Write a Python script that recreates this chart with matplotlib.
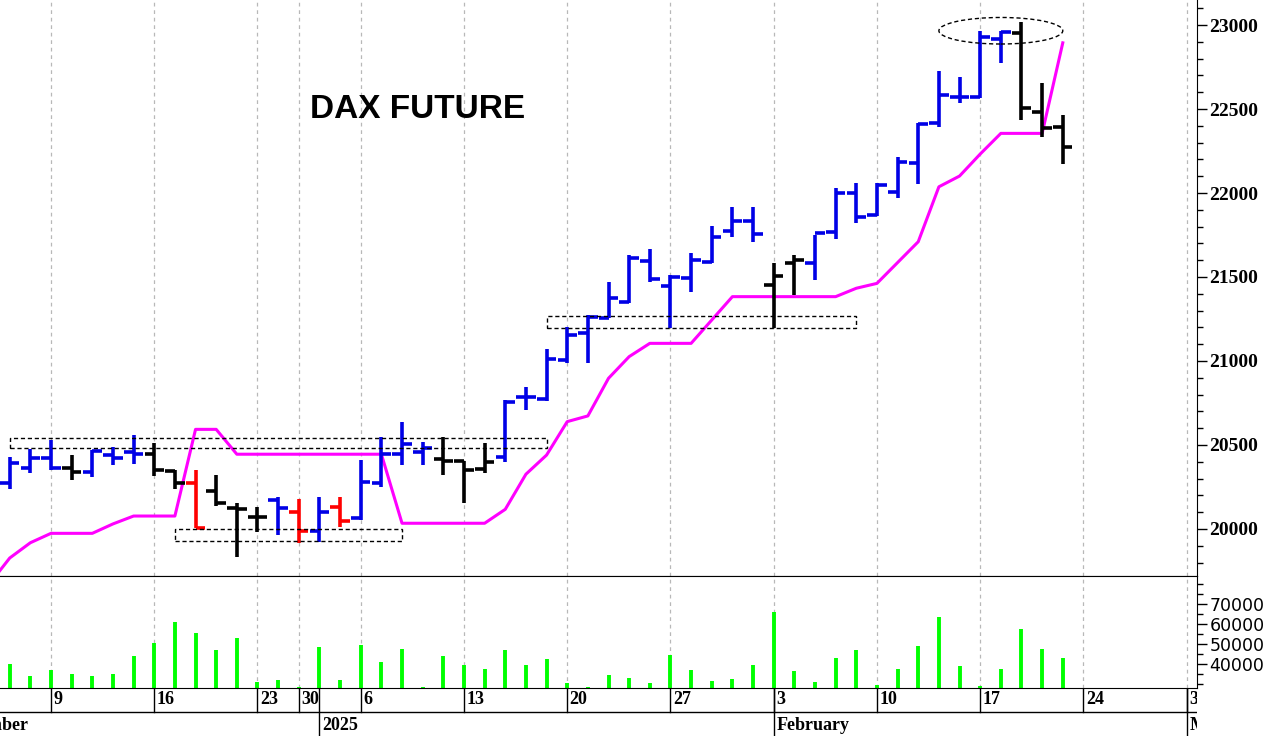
import numpy as np
import pandas as pd
import matplotlib
matplotlib.use('Agg')
import matplotlib.pyplot as plt
import matplotlib.patches as mpatches
from matplotlib.ticker import MultipleLocator, FixedLocator

# trading calendar (Eurex holidays removed)
holidays = ['2024-12-24', '2024-12-25', '2024-12-26', '2024-12-31', '2025-01-01']
cal = pd.bdate_range('2024-12-02', '2025-03-07')
cal = cal[~cal.isin(pd.to_datetime(holidays))]
pos = {d: i for i, d in enumerate(cal)}

dates = cal[(cal >= '2024-12-05') & (cal <= '2025-02-21')]

opens = [20272, 20361, 20421, 20361, 20341, 20440, 20460, 20446, 20345, 20272,
         20228, 20123, 20073, 20173, 20103, 19990, 20133, 20064, 20272, 20446,
         20460, 20416, 20406, 20355, 20427, 20784, 20772, 21005, 21165, 21258,
         21353, 21597, 21446, 21492, 21591, 21775, 21835, 21452, 21585, 21581,
         21770, 22002, 21869, 22008, 22180, 22414, 22569, 22573, 22914, 22950,
         22484, 22391]
highs = [20427, 20474, 20530, 20440, 20470, 20490, 20561, 20510, 20351, 20351,
         20321, 20153, 20129, 20189, 20177, 20192, 20188, 20411, 20550, 20639,
         20520, 20550, 20406, 20510, 20768, 20847, 21070, 21200, 21274, 21472,
         21631, 21664, 21512, 21643, 21803, 21915, 21919, 21581, 21631, 21750,
         22027, 22057, 22057, 22217, 22414, 22726, 22690, 22966, 22966, 23020,
         22653, 22464]
lows = [20236, 20335, 20351, 20292, 20311, 20381, 20387, 20315, 20236, 20004,
        20137, 19835, 19984, 19964, 19915, 19921, 20014, 20054, 20252, 20381,
        20381, 20321, 20153, 20335, 20401, 20708, 20764, 20990, 20987, 21254,
        21347, 21472, 21195, 21413, 21585, 21740, 21710, 21195, 21393, 21482,
        21729, 21823, 21863, 21969, 22053, 22394, 22533, 22563, 22772, 22435,
        22335, 22173]
closes = [20391, 20421, 20361, 20341, 20466, 20421, 20446, 20351, 20272, 20008,
          20153, 20117, 20073, 20123, 19990, 20103, 20050, 20282, 20446, 20506,
          20484, 20406, 20351, 20401, 20758, 20786, 21010, 21155, 21264, 21373,
          21611, 21486, 21498, 21601, 21736, 21835, 21754, 21506, 21601, 21759,
          22002, 21855, 22050, 22186, 22411, 22583, 22573, 22930, 22960, 22504,
          22385, 22272]
bar_col = list('bbbkbbbkkrkkkbrbrbbbbkkkbbbbbbbbbbbbbkkbbbbbbbbbbkkk')

volume = [40000, 34000, 37000, 35000, 34000, 35000, 44000, 50500, 61000, 55500,
          47000, 53000, 31000, 32000, 28300, 48500, 32000, 49500, 41000, 47500,
          28300, 44000, 39500, 37500, 47000, 39500, 42500, 30500, 28500, 34500,
          33000, 30500, 44500, 37000, 31500, 32500, 39500, 66000, 36500, 31000,
          43000, 47000, 29500, 37500, 49000, 63500, 39000, 29000, 37500, 57500,
          47500, 43000]

# stop line, first value belongs to 4 Dec (off the left edge)
stop_dates = cal[(cal >= '2024-12-04') & (cal <= '2025-02-21')]
stop = [19670,
        19827, 19918, 19974, 19974, 19974, 20030, 20077, 20077, 20077, 20593,
        20593, 20445, 20445, 20445, 20445, 20445, 20445, 20445, 20445, 20034,
        20034, 20034, 20034, 20034, 20117, 20326, 20440, 20639, 20673, 20897,
        21026, 21105, 21105, 21105, 21244, 21383, 21383, 21383, 21383, 21383,
        21383, 21433, 21462, 21586, 21710, 22037, 22101, 22232, 22355, 22355,
        22355, 22894]

# boxes: (from, to, low, high)
boxes = [('2024-12-05', '2025-01-17', 20481, 20540),
         ('2024-12-17', '2025-01-08', 19926, 19998),
         ('2025-01-17', '2025-02-07', 21196, 21270)]
ellipse = ('2025-02-18', 6.0, 22966, 158)

week_ticks = ['2024-12-09', '2024-12-16', '2024-12-23', '2024-12-30', '2025-01-06',
              '2025-01-13', '2025-01-20', '2025-01-27', '2025-02-03', '2025-02-10',
              '2025-02-17', '2025-02-24', '2025-03-03']
week_labels = ['9', '16', '23', '30', '6', '13', '20', '27', '3', '10', '17', '24', '3']
month_ticks = ['2024-12-02', '2025-01-02', '2025-02-03', '2025-03-03']
month_labels = ['December', '2025', 'February', 'March']

x = np.array([pos[d] for d in dates])
xs = np.array([pos[d] for d in stop_dates])
def px(d):
    return pos[pd.Timestamp(d)]

colmap = {'b': '#0000e6', 'k': 'black', 'r': '#ff0000'}
x0 = px('2024-12-05')
xlim = (x0 - 0.47, x0 + 57.5)

W, H = 1269, 736
fig = plt.figure(figsize=(W / 100, H / 100), dpi=100)
ax = fig.add_axes([0, 1 - 576 / H, 1197 / W, 576 / H])
axv = fig.add_axes([0, 1 - 688 / H, 1197 / W, 112 / H])
axd = fig.add_axes([0, 0, 1197 / W, 48 / H])

serif = 'Liberation Serif'
grid_kw = dict(color='#b8b8b8', lw=0.9, ls=(0, (3, 3)), zorder=0)

# ---- price panel
for a in (ax, axv):
    for t in week_ticks:
        a.axvline(px(t), **grid_kw)

ax.plot(xs, stop, color='#ff00ff', lw=2.2, zorder=2, solid_joinstyle='round')

o = np.array(opens); h = np.array(highs); l = np.array(lows); c = np.array(closes)
for key, col in colmap.items():
    m = np.array([b == key for b in bar_col])
    ax.vlines(x[m], l[m], h[m], colors=col, lw=2.6, zorder=3)
    ax.hlines(o[m], x[m] - 0.47, x[m], colors=col, lw=2.6, zorder=3)
    ax.hlines(c[m], x[m], x[m] + 0.47, colors=col, lw=2.6, zorder=3)

for d0, d1, lo, hi in boxes:
    ax.add_patch(mpatches.Rectangle((px(d0), lo), px(d1) - px(d0), hi - lo, fill=False,
                                    ec='black', lw=1.0, ls=(0, (3, 2)), zorder=4))
ed, ew, ey, eh = ellipse
ax.add_patch(mpatches.Ellipse((px(ed), ey), ew, eh, fill=False, ec='black', lw=1.0,
                              ls=(0, (3, 2)), zorder=4))

ax.text(310 / 1197, 1 - 110 / 576, 'DAX FUTURE', transform=ax.transAxes, ha='left',
        va='center', fontsize=24, fontweight='bold', family='Liberation Sans')

ax.set_xlim(xlim)
ax.set_ylim(19720, 23149)
ax.yaxis.tick_right()
ax.yaxis.set_major_locator(MultipleLocator(500))
ax.yaxis.set_minor_locator(MultipleLocator(100))
ax.tick_params(axis='y', which='major', length=7, width=1, pad=2, labelsize=14)
ax.tick_params(axis='y', which='minor', length=4, width=1)
for lab in ax.get_yticklabels():
    lab.set_family(serif)
    lab.set_fontweight('bold')
ax.set_xticks([])
for s in ('left', 'top'):
    ax.spines[s].set_visible(False)

# ---- volume panel
axv.vlines(x, 0, volume, colors='#00ff00', lw=2.8, zorder=2)
axv.set_xlim(xlim)
axv.set_ylim(28000, 84000)
axv.yaxis.tick_right()
axv.yaxis.set_major_locator(FixedLocator([40000, 50000, 60000, 70000]))
axv.yaxis.set_minor_locator(MultipleLocator(5000))
axv.tick_params(axis='y', which='major', length=7, width=1, pad=2, labelsize=12.5)
axv.tick_params(axis='y', which='minor', length=4, width=1)
axv.set_xticks([])
axv.spines['left'].set_visible(False)

# ---- date rows
axd.set_xlim(xlim)
axd.set_ylim(0, 2)
axd.axis('off')
axd.axhline(1, color='black', lw=1.0)
for t, lab in zip(week_ticks, week_labels):
    axd.plot([px(t), px(t)], [1, 2], color='black', lw=1.0)
    axd.text(px(t) + 0.12, 1.5, lab, ha='left', va='center', fontsize=13,
             family=serif, fontweight='bold', clip_on=True)
for t, lab in zip(month_ticks, month_labels):
    axd.plot([px(t), px(t)], [0, 2], color='black', lw=1.0)
    axd.text(px(t) + 0.12, 0.45, lab, ha='left', va='center', fontsize=13,
             family=serif, fontweight='bold', clip_on=True)

fig.savefig('out.png', dpi=100)
